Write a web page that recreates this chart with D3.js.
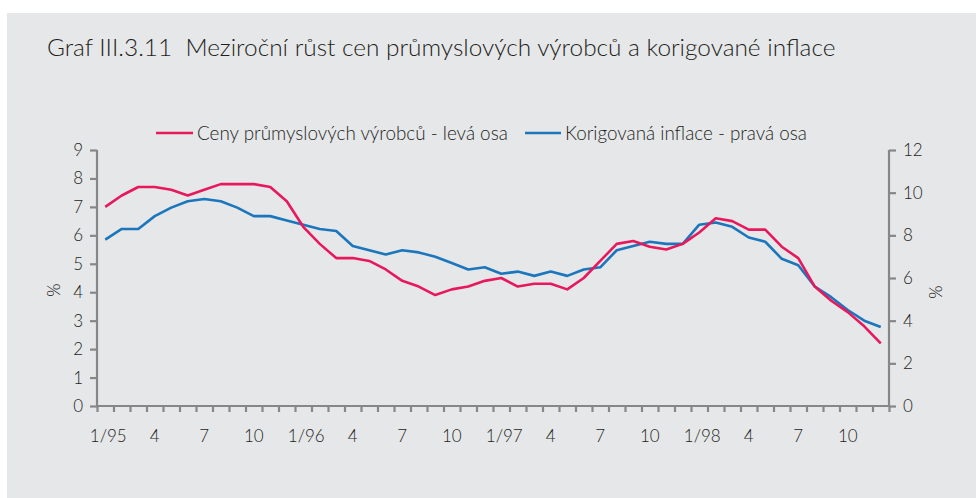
<!DOCTYPE html>
<html><head><meta charset="utf-8">
<script src="https://cdn.jsdelivr.net/npm/d3@7"></script>
<style>body{margin:0;background:#fff}svg{display:block}text{font-family:Lato,"Open Sans",sans-serif;font-weight:300;fill:#231f20}</style>
</head><body><svg id="c" width="976" height="498"></svg>
<script>
const categories = ["1/95","2/95","3/95","4/95","5/95","6/95","7/95","8/95","9/95","10/95","11/95","12/95",
  "1/96","2/96","3/96","4/96","5/96","6/96","7/96","8/96","9/96","10/96","11/96","12/96",
  "1/97","2/97","3/97","4/97","5/97","6/97","7/97","8/97","9/97","10/97","11/97","12/97",
  "1/98","2/98","3/98","4/98","5/98","6/98","7/98","8/98","9/98","10/98","11/98","12/98"];
const ppiValues = [7.0,7.4,7.7,7.7,7.6,7.4,7.6,7.8,7.8,7.8,7.7,7.2,
  6.3,5.7,5.2,5.2,5.1,4.8,4.4,4.2,3.9,4.1,4.2,4.4,
  4.5,4.2,4.3,4.3,4.1,4.5,5.1,5.7,5.8,5.6,5.5,5.7,
  6.1,6.6,6.5,6.2,6.2,5.6,5.2,4.2,3.7,3.3,2.8,2.2];
const coreValues = [7.8,8.3,8.3,8.9,9.3,9.6,9.7,9.6,9.3,8.9,8.9,8.7,
  8.5,8.3,8.2,7.5,7.3,7.1,7.3,7.2,7.0,6.7,6.4,6.5,
  6.2,6.3,6.1,6.3,6.1,6.4,6.5,7.3,7.5,7.7,7.6,7.6,
  8.5,8.6,8.4,7.9,7.7,6.9,6.6,5.6,5.1,4.5,4.0,3.7];
const xTickValues = ["1/95","4/95","7/95","10/95","1/96","4/96","7/96","10/96","1/97","4/97","7/97","10/97","1/98","4/98","7/98","10/98"];
const xTickLabels = ["1/95","4","7","10","1/96","4","7","10","1/97","4","7","10","1/98","4","7","10"];
const leftTicks = [0,1,2,3,4,5,6,7,8,9];
const rightTicks = [0,2,4,6,8,10,12];
const seriesNames = ["Ceny průmyslových výrobců - levá osa","Korigovaná inflace - pravá osa"];
const title = "Graf III.3.11  Meziroční růst cen průmyslových výrobců a korigované inflace";

const svg = d3.select("#c");
const PINK = "#e8185c", BLUE = "#1b76bc", AX = "#878787";
svg.append("rect").attr("x",7).attr("y",13).attr("width",969).attr("height",485).attr("fill","#e6e7e9");

const L = 97, R = 889, T = 150, B = 406;
const x = d3.scaleBand().domain(categories).range([L,R]).padding(0);
const xi = d3.scaleLinear().domain([0,categories.length]).range([L,R]);
const yL = d3.scaleLinear().domain([0,9]).range([B,T]);
const yR = d3.scaleLinear().domain([0,12]).range([B,T]);

// title
const tt = svg.append("text").attr("x",47).attr("y",56).style("font-size","22px").attr("xml:space","preserve").text(title);
const tw = tt.node().getComputedTextLength();
tt.style("font-size",(22*789/tw)+"px");

// x axis ticks at band boundaries
const gx = svg.append("g").attr("transform",`translate(0,${B})`)
  .call(d3.axisBottom(xi).tickValues(d3.range(0,categories.length+1)).tickSize(6).tickFormat(""));
gx.select(".domain").remove();
gx.selectAll("line").attr("stroke",AX).attr("stroke-width",2.2);
// x labels
const gxl = svg.append("g").attr("transform",`translate(0,${B})`)
  .call(d3.axisBottom(x).tickValues(xTickValues).tickSize(0).tickPadding(24)
    .tickFormat(d=>xTickLabels[xTickValues.indexOf(d)]));
gxl.select(".domain").remove();
gxl.selectAll("text").style("font-size","17px").style("font-family","Lato,sans-serif").style("font-weight","300").attr("fill","#231f20")
  .attr("dx",d=>xTickLabels[xTickValues.indexOf(d)].includes("/")?3:0);

// left axis
const gl = svg.append("g").attr("transform",`translate(${L},0)`)
  .call(d3.axisLeft(yL).tickValues(leftTicks).tickSize(7).tickPadding(7).tickFormat(d3.format("d")));
// right axis
const gr = svg.append("g").attr("transform",`translate(${R},0)`)
  .call(d3.axisRight(yR).tickValues(rightTicks).tickSize(7).tickPadding(7).tickFormat(d3.format("d")));
[gl,gr].forEach(g=>{
  g.select(".domain").attr("stroke",AX).attr("stroke-width",2.2).attr("d", `M0,${B}V${T}`);
  g.selectAll("line").attr("stroke",AX).attr("stroke-width",2.2);
  g.selectAll("text").style("font-size","17px").style("font-family","Lato,sans-serif").style("font-weight","300").attr("fill","#231f20");
});
// x baseline
svg.append("line").attr("x1",L-1).attr("x2",R+1).attr("y1",B).attr("y2",B).attr("stroke",AX).attr("stroke-width",2.2);

// axis unit labels
svg.append("text").attr("transform","translate(60,290) rotate(-90)").attr("text-anchor","middle").style("font-size","17px").text("%");
svg.append("text").attr("transform","translate(942,292) rotate(-90)").attr("text-anchor","middle").style("font-size","17px").text("%");

// lines
const cx = d => x(d) + x.bandwidth()/2;
const lineL = d3.line().x((d,i)=>cx(categories[i])).y(d=>yL(d));
const lineR = d3.line().x((d,i)=>cx(categories[i])).y(d=>yR(d));
svg.append("path").datum(coreValues).attr("d",lineR).attr("fill","none").attr("stroke",BLUE).attr("stroke-width",2.6).attr("stroke-linejoin","round");
svg.append("path").datum(ppiValues).attr("d",lineL).attr("fill","none").attr("stroke",PINK).attr("stroke-width",2.6).attr("stroke-linejoin","round");

// legend
const leg = [{c:PINK,x1:156,x2:193,tx:197,tw:311},{c:BLUE,x1:525,x2:561,tx:565,tw:242}];
leg.forEach((l,i)=>{
  svg.append("line").attr("x1",l.x1).attr("x2",l.x2).attr("y1",133).attr("y2",133).attr("stroke",l.c).attr("stroke-width",2.6);
  const t = svg.append("text").attr("x",l.tx).attr("y",140).style("font-size","17px").text(seriesNames[i]);
  const w = t.node().getComputedTextLength();
  t.style("font-size",(17*l.tw/w)+"px");
});
</script></body></html>
